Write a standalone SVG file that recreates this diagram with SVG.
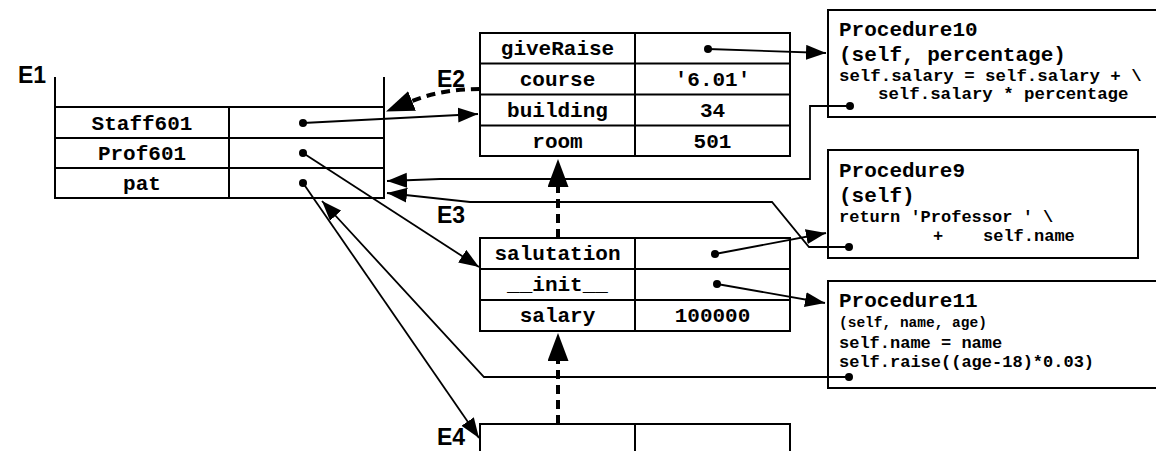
<svg xmlns="http://www.w3.org/2000/svg" width="1156" height="451" viewBox="0 0 1156 451">
<style>
.box{fill:none;stroke:#000;stroke-width:2}
.cell{font-family:"Liberation Mono",monospace;font-weight:bold;font-size:21px;fill:#000;text-anchor:middle}
.title{font-family:"Liberation Mono",monospace;font-weight:bold;font-size:21px;fill:#000}
.code{font-family:"Liberation Mono",monospace;font-weight:bold;font-size:17px;fill:#000}
.small{font-family:"Liberation Mono",monospace;font-weight:bold;font-size:14.5px;fill:#000}
.lbl{font-family:"Liberation Sans",Arial,sans-serif;font-weight:bold;font-size:23px;fill:#000}
.conn{fill:none;stroke:#000;stroke-width:1.8}
.dash{fill:none;stroke:#000;stroke-width:4;stroke-dasharray:9,6}
.dot{fill:#000}
</style>
<defs>
<marker id="ah" markerUnits="userSpaceOnUse" markerWidth="21" markerHeight="16" refX="20" refY="7.5" orient="auto">
<path d="M0,0 L20,7.5 L0,15 z" fill="#000"/>
</marker>
<marker id="ahd" markerUnits="userSpaceOnUse" markerWidth="29" markerHeight="22" refX="0" refY="10.5" orient="auto">
<path d="M0,0 L28,10.5 L0,21 z" fill="#000"/>
</marker>
</defs>

<g id="E1">
<text class="lbl" x="18" y="83">E1</text>
<path class="box" d="M55,77 V198 H384 V77 M55,107 H384 M55,138 H384 M55,168 H384 M229,107 V198"/>
<text class="cell" x="142" y="129.5">Staff601</text>
<text class="cell" x="142" y="160">Prof601</text>
<text class="cell" x="142" y="190">pat</text>
<circle class="dot" cx="303" cy="123" r="4"/>
<circle class="dot" cx="303" cy="153" r="4"/>
<circle class="dot" cx="303" cy="183" r="4"/>
</g>

<g id="E2">
<text class="lbl" x="437" y="87">E2</text>
<rect class="box" x="480" y="33" width="310" height="123"/>
<path class="box" d="M480,63.5 H790 M480,94.5 H790 M480,125.5 H790 M635,33 V156"/>
<text class="cell" x="557.5" y="55">giveRaise</text>
<text class="cell" x="557.5" y="86">course</text>
<text class="cell" x="557.5" y="117">building</text>
<text class="cell" x="557.5" y="148">room</text>
<circle class="dot" cx="708" cy="49" r="4"/>
<text class="cell" x="712.5" y="86">'6.01'</text>
<text class="cell" x="712.5" y="117">34</text>
<text class="cell" x="712.5" y="148">501</text>
</g>

<g id="E3">
<text class="lbl" x="437" y="223">E3</text>
<rect class="box" x="480" y="238" width="310" height="93"/>
<path class="box" d="M480,269 H790 M480,300 H790 M635,238 V331"/>
<text class="cell" x="557.5" y="260">salutation</text>
<text class="cell" x="557.5" y="291">__init__</text>
<text class="cell" x="557.5" y="322">salary</text>
<circle class="dot" cx="715" cy="254" r="4"/>
<circle class="dot" cx="717" cy="284" r="4"/>
<text class="cell" x="712.5" y="322">100000</text>
</g>

<g id="E4">
<text class="lbl" x="437" y="445">E4</text>
<path class="box" d="M480,460 V424 H790 V460 M635,424 V460"/>
</g>

<g id="Procedure10">
<rect class="box" x="828" y="10" width="340" height="107"/>
<text class="title" x="839" y="36">Procedure10</text>
<text class="title" x="839" y="61">(self, percentage)</text>
<text class="code" x="839" y="81" style="font-size:17.4px">self.salary = self.salary + \</text>
<text class="code" x="878" y="99" style="font-size:17.4px">self.salary * percentage</text>
<circle class="dot" cx="850" cy="106" r="4"/>
</g>

<g id="Procedure9">
<rect class="box" x="828" y="150" width="310" height="108"/>
<text class="title" x="839" y="177">Procedure9</text>
<text class="title" x="839" y="202">(self)</text>
<text class="code" x="839" y="222">return 'Professor ' \</text>
<text class="code" y="241"><tspan x="933">+</tspan><tspan x="983">self.name</tspan></text>
<circle class="dot" cx="849" cy="247" r="4"/>
</g>

<g id="Procedure11">
<rect class="box" x="828" y="281" width="340" height="107"/>
<text class="title" x="839" y="307">Procedure11</text>
<text class="small" x="839" y="327">(self, name, age)</text>
<text class="code" x="839" y="348">self.name = name</text>
<text class="code" x="839" y="367">self.raise((age-18)*0.03)</text>
<circle class="dot" cx="849" cy="377" r="4"/>
</g>

<g id="connectors">
<path class="conn" marker-end="url(#ah)" d="M708,49 L826,53"/>
<path class="conn" marker-end="url(#ah)" d="M303,123 L478,114"/>
<path class="conn" marker-end="url(#ah)" d="M303,153 L479,267"/>
<path class="conn" marker-end="url(#ah)" d="M303,183 L479,438"/>
<path class="conn" marker-end="url(#ah)" d="M850,106 H810 V179 H440 L387,181"/>
<path class="conn" marker-end="url(#ah)" d="M849,247 H809 L772,202 H470 L387,193"/>
<path class="conn" marker-end="url(#ah)" d="M849,377 H484 L322,201"/>
<path class="conn" marker-end="url(#ah)" d="M715,254 L826,233"/>
<path class="conn" marker-end="url(#ah)" d="M717,284 L825,303"/>
<path class="dash" marker-end="url(#ahd)" d="M480,89 Q442,89 412,101"/>
<path class="dash" marker-end="url(#ahd)" d="M558,238 V187"/>
<path class="dash" marker-end="url(#ahd)" d="M558,424 V361"/>
</g>
</svg>
